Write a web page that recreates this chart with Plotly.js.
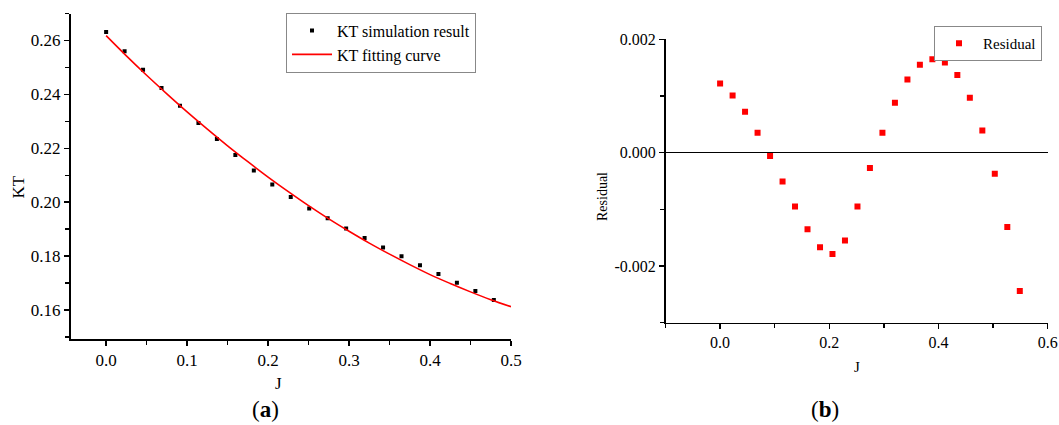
<!DOCTYPE html>
<html>
<head>
<meta charset="utf-8">
<script src="https://cdn.plot.ly/plotly-3.0.1.min.js"></script>
<style>html,body{margin:0;padding:0;background:#fff;}#chart{width:1059px;height:425px;}</style>
</head>
<body>
<div id="chart"></div>
<script>
// Panel (a): simulation points
const simJ = [0, 0.0228, 0.0456, 0.0684, 0.0912, 0.1140, 0.1368, 0.1596, 0.1824, 0.2052, 0.2280,
  0.2508, 0.2736, 0.2964, 0.3192, 0.3420, 0.3648, 0.3876, 0.4104, 0.4332, 0.4560, 0.4788];
const simKT = [0.2631, 0.2560, 0.2491, 0.2424, 0.2358, 0.2294, 0.2234, 0.2175, 0.2117, 0.2065, 0.2019,
  0.1976, 0.1940, 0.1902, 0.1867, 0.1832, 0.1799, 0.1766, 0.1733, 0.1701, 0.1670, 0.1637];
// Panel (a): fitting curve
const fitJ = [0, 0.025, 0.05, 0.075, 0.1, 0.125, 0.15, 0.175, 0.2, 0.225, 0.25,
  0.275, 0.3, 0.325, 0.35, 0.375, 0.4, 0.425, 0.45, 0.475, 0.5];
const fitKT = [0.2618, 0.2543, 0.2471, 0.2402, 0.2335, 0.2271, 0.2209, 0.2150, 0.2093, 0.2039, 0.1987,
  0.1938, 0.1892, 0.1848, 0.1807, 0.1768, 0.1731, 0.1698, 0.1667, 0.1638, 0.1612];
// Panel (b): residuals
const resJ = [0, 0.0229, 0.0457, 0.0686, 0.0915, 0.1144, 0.1372, 0.1601, 0.1830, 0.2058, 0.2287,
  0.2516, 0.2744, 0.2973, 0.3202, 0.3431, 0.3659, 0.3888, 0.4117, 0.4345, 0.4574, 0.4803, 0.5031, 0.5260, 0.5489];
const residual = [0.00122, 0.00101, 0.00072, 0.00035, -0.00006, -0.00051, -0.00095, -0.00135, -0.00167, -0.00179, -0.00155,
  -0.00095, -0.00027, 0.00035, 0.00088, 0.00129, 0.00155, 0.00165, 0.00159, 0.00137, 0.00097, 0.00039, -0.00037, -0.00131, -0.00244];
// Tick labels
const aXTicks = [0, 0.1, 0.2, 0.3, 0.4, 0.5];
const aXTickText = ['0.0', '0.1', '0.2', '0.3', '0.4', '0.5'];
const aYTicks = [0.16, 0.18, 0.20, 0.22, 0.24, 0.26];
const aYTickText = ['0.16', '0.18', '0.20', '0.22', '0.24', '0.26'];
const bXTicks = [0, 0.2, 0.4, 0.6];
const bXTickText = ['0.0', '0.2', '0.4', '0.6'];
const bYTicks = [-0.002, 0, 0.002];
const bYTickText = ['-0.002', '0.000', '0.002'];

const FONT = '"Liberation Serif", "Times New Roman", serif';
const W = 1059, H = 425;
const px = v => v / W, py = v => 1 - v / H;

const traces = [
  {x: simJ, y: simKT, type: 'scatter', mode: 'markers', name: 'KT simulation result',
   marker: {symbol: 'square', size: 4, color: '#000'}, xaxis: 'x', yaxis: 'y', legend: 'legend'},
  {x: fitJ, y: fitKT, type: 'scatter', mode: 'lines', name: 'KT fitting curve', line: {color: '#ff0000', width: 1.6, shape: 'spline'},
   xaxis: 'x', yaxis: 'y', legend: 'legend'},
  {x: resJ, y: residual, type: 'scatter', mode: 'markers', name: 'Residual',
   marker: {symbol: 'square', size: 6, color: '#ff0000'}, xaxis: 'x2', yaxis: 'y2', legend: 'legend2'}
];

const axBase = {showgrid: false, zeroline: false, showline: true, linecolor: '#000', linewidth: 1.5,
  ticks: 'outside', ticklen: 5, tickwidth: 1.3, tickcolor: '#000', tickmode: 'array',
  tickfont: {family: FONT, size: 17, color: '#000'}};

function label(text, x, y, size, angle) {
  return {text: text, xref: 'paper', yref: 'paper', x: px(x), y: py(y), xanchor: 'center', yanchor: 'middle',
    showarrow: false, textangle: angle || 0, font: {family: FONT, size: size, color: '#000'}};
}

const layout = {
  width: W, height: H, margin: {l: 0, r: 0, t: 0, b: 0},
  paper_bgcolor: '#fff', plot_bgcolor: '#fff',
  font: {family: FONT, color: '#000'},
  xaxis: Object.assign({}, axBase, {domain: [px(70.5), px(511)], range: [-0.044, 0.5], anchor: 'y',
    tickvals: aXTicks, ticktext: aXTickText,
    minor: {tickvals: [0.05, 0.15, 0.25, 0.35, 0.45], ticklen: 4, tickcolor: '#000', ticks: 'outside'}}),
  yaxis: Object.assign({}, axBase, {domain: [py(339.3), py(13.5)], range: [0.1491, 0.2700], anchor: 'x',
    tickvals: aYTicks, ticktext: aYTickText,
    minor: {tickvals: [0.15, 0.17, 0.19, 0.21, 0.23, 0.25, 0.27], ticklen: 4, tickcolor: '#000', ticks: 'outside'}}),
  xaxis2: Object.assign({}, axBase, {domain: [px(665.5), px(1047.7)], range: [-0.1, 0.6], anchor: 'y2',
    tickvals: bXTicks, ticktext: bXTickText, tickfont: {family: FONT, size: 16, color: '#000'},
    minor: {tickvals: [-0.1, 0.1, 0.3, 0.5], ticklen: 4, tickcolor: '#000', ticks: 'outside'}}),
  yaxis2: Object.assign({}, axBase, {domain: [py(322.7), py(39.3)], range: [-0.003, 0.002], anchor: 'x2',
    tickvals: bYTicks, ticktext: bYTickText, tickfont: {family: FONT, size: 16, color: '#000'},
    zeroline: true, zerolinecolor: '#000', zerolinewidth: 1.5,
    minor: {tickvals: [-0.003, -0.001, 0.001], ticklen: 4, tickcolor: '#000', ticks: 'outside'}}),
  legend: {x: px(286), y: py(12.7), xanchor: 'left', yanchor: 'top', bgcolor: '#fff',
    bordercolor: '#888', borderwidth: 1, font: {family: FONT, size: 16, color: '#000'},
    tracegroupgap: 0, itemwidth: 40},
  legend2: {x: px(934), y: py(26), xanchor: 'left', yanchor: 'top', bgcolor: '#fff',
    bordercolor: '#888', borderwidth: 1, font: {family: FONT, size: 15, color: '#000'}, itemwidth: 38},
  annotations: [
    label('J', 278, 383, 17),
    label('KT', 18.5, 187, 17, -90),
    label('J', 857, 367, 15),
    label('Residual', 602, 197, 14, -90),
    label('(<b>a</b>)', 265.5, 409, 23),
    label('(<b>b</b>)', 825, 409, 23)
  ]
};

Plotly.newPlot('chart', traces, layout, {displayModeBar: false, staticPlot: true});
</script>
</body>
</html>
